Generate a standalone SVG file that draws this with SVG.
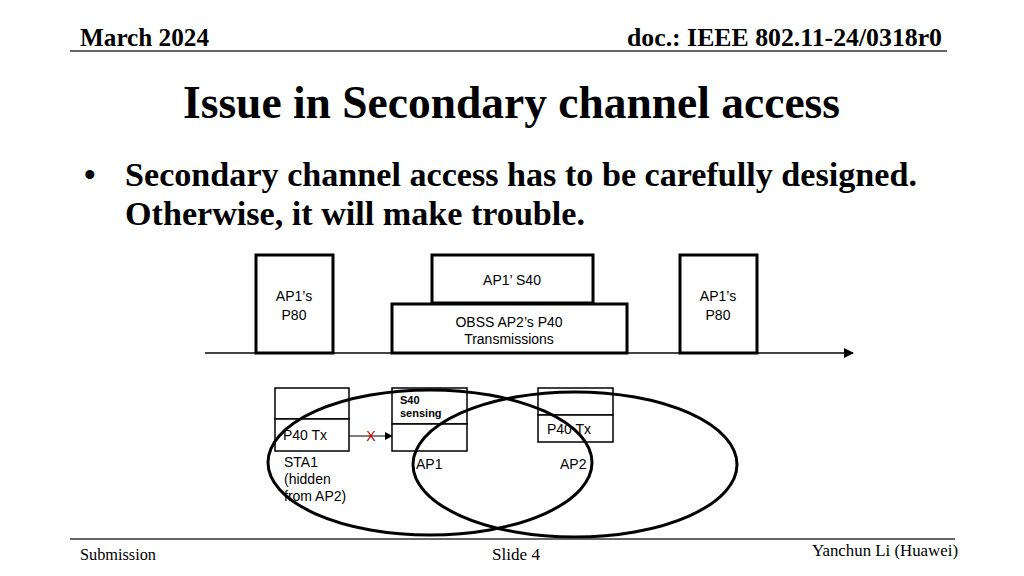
<svg xmlns="http://www.w3.org/2000/svg" width="1024" height="576" viewBox="0 0 1024 576">
<style>
.hdr{font-family:"Liberation Serif",serif;font-weight:bold;font-size:25px;fill:#000}
.ftr{font-family:"Liberation Serif",serif;font-size:17px;fill:#000}
.title{font-family:"Liberation Serif",serif;font-weight:bold;font-size:46px;fill:#000}
.body{font-family:"Liberation Serif",serif;font-weight:bold;font-size:33px;fill:#000}
.lbl{font-family:"Liberation Sans",Arial,sans-serif;font-size:14px;fill:#000}
.sm{font-family:"Liberation Sans",Arial,sans-serif;font-size:11px;font-weight:bold;fill:#000}
.big{fill:#fff;stroke:#000;stroke-width:3}
.cell{fill:#fff;stroke:#000;stroke-width:1.5}
.ell{fill:none;stroke:#000;stroke-width:3}
</style>
<defs>
<marker id="ah" viewBox="0 0 10 10" refX="9" refY="5" markerWidth="10" markerHeight="10" markerUnits="userSpaceOnUse" orient="auto"><path d="M0,0 L10,5 L0,10 z" fill="#000"/></marker>
<marker id="ah2" viewBox="0 0 10 10" refX="9" refY="5" markerWidth="8" markerHeight="8" markerUnits="userSpaceOnUse" orient="auto"><path d="M0,0 L10,5 L0,10 z" fill="#000"/></marker>
</defs>
<rect width="1024" height="576" fill="#fff"/>
<g id="header">
<text class="hdr" x="80" y="46" textLength="129" lengthAdjust="spacingAndGlyphs">March 2024</text>
<text class="hdr" x="627" y="46" textLength="315" lengthAdjust="spacingAndGlyphs">doc.: IEEE 802.11-24/0318r0</text>
<line x1="70" y1="51" x2="947" y2="51" stroke="#333" stroke-width="1.5"/>
</g>
<text class="title" x="183" y="118" textLength="657" lengthAdjust="spacingAndGlyphs">Issue in Secondary channel access</text>
<g id="bullets">
<text class="body" x="84" y="186">•</text>
<text class="body" x="125" y="186" textLength="792" lengthAdjust="spacingAndGlyphs">Secondary channel access has to be carefully designed.</text>
<text class="body" x="125" y="225" textLength="460" lengthAdjust="spacingAndGlyphs">Otherwise, it will make trouble.</text>
</g>
<g id="connectors">
<line x1="205" y1="353" x2="853" y2="353" stroke="#444" stroke-width="2" marker-end="url(#ah)"/>
<line x1="349" y1="436" x2="392" y2="436" stroke="#000" stroke-width="1.2" marker-end="url(#ah2)"/>
</g>
<g id="ap1-p80-left">
<rect class="big" x="256" y="255" width="77" height="98"/>
<text class="lbl" x="294" y="301" text-anchor="middle">AP1’s</text>
<text class="lbl" x="294" y="320" text-anchor="middle">P80</text>
</g>
<g id="ap1-s40">
<rect class="big" x="432" y="255" width="161" height="48"/>
<text class="lbl" x="512" y="285" text-anchor="middle">AP1’ S40</text>
</g>
<g id="obss">
<rect class="big" x="392" y="304" width="235" height="49"/>
<text class="lbl" x="509" y="327" text-anchor="middle">OBSS AP2’s P40</text>
<text class="lbl" x="509" y="344" text-anchor="middle">Transmissions</text>
</g>
<g id="ap1-p80-right">
<rect class="big" x="680" y="255" width="77" height="98"/>
<text class="lbl" x="718" y="301" text-anchor="middle">AP1’s</text>
<text class="lbl" x="718" y="320" text-anchor="middle">P80</text>
</g>
<g id="sta1">
<rect class="cell" x="275" y="388" width="74" height="31"/>
<rect class="cell" x="275" y="419" width="74" height="32"/>
<text class="lbl" x="283" y="440">P40 Tx</text>
<text class="lbl" x="284" y="467">STA1</text>
<text class="lbl" x="284" y="484">(hidden</text>
<text class="lbl" x="284" y="501">from AP2)</text>
</g>
<g id="ap1">
<rect class="cell" x="392" y="388" width="75" height="36"/>
<rect class="cell" x="392" y="424" width="75" height="27"/>
<text class="sm" x="400" y="404">S40</text>
<text class="sm" x="400" y="417">sensing</text>
<text class="lbl" x="416" y="469">AP1</text>
</g>
<g id="ap2">
<rect class="cell" x="538" y="388" width="75" height="27"/>
<rect class="cell" x="538" y="415" width="75" height="27"/>
<text class="lbl" x="547" y="434">P40 Tx</text>
<text class="lbl" x="560" y="469">AP2</text>
</g>
<text x="371" y="441" text-anchor="middle" font-family="Liberation Sans,Arial,sans-serif" font-size="14" fill="#c00000">X</text>
<g id="ranges">
<ellipse class="ell" cx="430" cy="462.5" rx="162" ry="72.5"/>
<ellipse class="ell" cx="575" cy="464.5" rx="162" ry="72.5"/>
</g>
<g id="footer">
<line x1="70" y1="539" x2="955" y2="539" stroke="#333" stroke-width="1.5"/>
<text class="ftr" x="80" y="560" textLength="76" lengthAdjust="spacingAndGlyphs">Submission</text>
<text class="ftr" x="492" y="560" textLength="48" lengthAdjust="spacingAndGlyphs">Slide 4</text>
<text class="ftr" x="812" y="556" textLength="146" lengthAdjust="spacingAndGlyphs">Yanchun Li (Huawei)</text>
</g>
</svg>
